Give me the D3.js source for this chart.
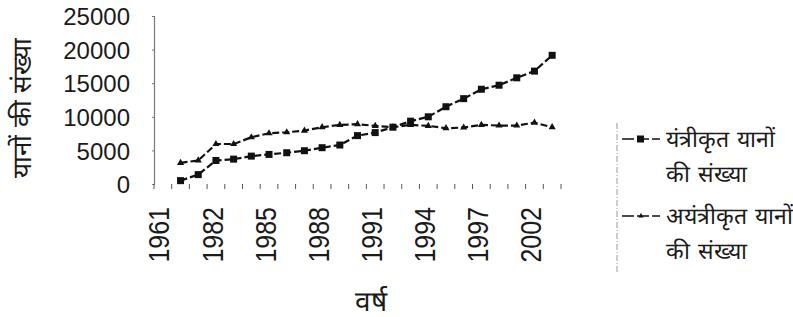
<!DOCTYPE html>
<html>
<head>
<meta charset="utf-8">
<script src="https://cdn.jsdelivr.net/npm/d3@7"></script>
<style>
  body { margin: 0; background: #fff; }
  svg { display: block; }
  text { font-family: "Liberation Sans", Arial, sans-serif; fill: #1a1a1a; }
</style>
</head>
<body>
<svg id="chart" width="793" height="317"></svg>
<script>
(function () {
    // categories along x (23 slots, every third one labelled)
    const years = ["1961", "1971", "1981", "1982", "1983", "1984", "1985", "1986", "1987",
        "1988", "1989", "1990", "1991", "1992", "1993", "1994", "1995", "1996", "1997",
        "1999", "2000", "2002", "2003"];
    const yearLabels = ["1961", "1982", "1985", "1988", "1991", "1994", "1997", "2002"];
    const yTicks = [0, 5000, 10000, 15000, 20000, 25000];

    // mechanised vehicles
    const mechanised = [null, 500, 1400, 3500, 3700, 4150, 4400, 4650, 4950, 5400, 5800,
        7200, 7650, 8450, 9350, 10000, 11500, 12700, 14100, 14700, 15800, 16800, 19150];
    // non-mechanised vehicles
    const nonMechanised = [null, 3150, 3500, 5950, 5950, 6950, 7550, 7700, 7950, 8450, 8800,
        8900, 8650, 8450, 8800, 8650, 8300, 8400, 8800, 8700, 8700, 9120, 8450];

    const seriesNames = [["यंत्रीकृत यानों", "की संख्या"], ["अयंत्रीकृत यानों", "की संख्या"]];

    const svg = d3.select("#chart");

    const x = d3.scaleBand().domain(years).range([154, 561]);
    const y = d3.scaleLinear().domain([0, 25000]).range([184, 16]);

    // y axis
    const yAxis = svg.append("g")
        .attr("transform", "translate(154,0)")
        .call(d3.axisLeft(y).tickValues(yTicks).tickFormat(d3.format("d")).tickSize(2).tickPadding(22));
    yAxis.select(".domain").attr("stroke", "#777").attr("stroke-width", 1.2);
    yAxis.selectAll(".tick line").attr("stroke", "#777");
    yAxis.selectAll(".tick text")
        .attr("font-size", 24)
        .attr("fill", "#1a1a1a")
        .style("font-family", "Liberation Sans, Arial, sans-serif")
        .attr("dy", "0.36em");

    // x tick marks on category boundaries
    svg.append("g").selectAll("line")
        .data(years.concat(["end"]))
        .enter()
        .append("line")
        .attr("x1", (d, i) => i < years.length ? x(d) : x.range()[1])
        .attr("x2", (d, i) => i < years.length ? x(d) : x.range()[1])
        .attr("y1", 184).attr("y2", 189)
        .attr("stroke", "#555").attr("stroke-width", 1);

    // x labels, rotated
    svg.append("g").selectAll("text")
        .data(yearLabels)
        .enter()
        .append("text")
        .attr("transform", d => `translate(${x(d) + x.bandwidth() / 2 - 4},207) rotate(-90) scale(1,1.18)`)
        .attr("text-anchor", "end")
        .attr("dy", "0.36em")
        .attr("font-size", 25)
        .text(d => d);

    // axis titles
    svg.append("text")
        .attr("transform", "translate(22,108) rotate(-90)")
        .attr("text-anchor", "middle")
        .attr("dy", "0.36em")
        .attr("font-size", 26)
        .text("यानों की संख्या");

    svg.append("text")
        .attr("x", 371).attr("y", 311)
        .attr("text-anchor", "middle")
        .attr("font-size", 28)
        .text("वर्ष");

    const line = d3.line()
        .defined(d => d != null)
        .x((d, i) => x(years[i]) + x.bandwidth() / 2)
        .y(d => y(d));

    const tri = d3.symbol().type(d3.symbolTriangle).size(22);

    // non-mechanised line + triangles
    svg.append("path")
        .datum(nonMechanised)
        .attr("fill", "none")
        .attr("stroke", "#111")
        .attr("stroke-width", 2.2)
        .attr("stroke-dasharray", "7,3")
        .attr("d", line);
    svg.append("g").selectAll("path")
        .data(nonMechanised.map((v, i) => [years[i], v]).filter(d => d[1] != null))
        .enter()
        .append("path")
        .attr("d", tri)
        .attr("transform", d => `translate(${x(d[0]) + x.bandwidth() / 2},${y(d[1])})`)
        .attr("fill", "#111");

    // mechanised line + squares
    svg.append("path")
        .datum(mechanised)
        .attr("fill", "none")
        .attr("stroke", "#111")
        .attr("stroke-width", 2.2)
        .attr("stroke-dasharray", "7,3")
        .attr("d", line);
    svg.append("g").selectAll("rect")
        .data(mechanised.map((v, i) => [years[i], v]).filter(d => d[1] != null))
        .enter()
        .append("rect")
        .attr("x", d => x(d[0]) + x.bandwidth() / 2 - 3.5)
        .attr("y", d => y(d[1]) - 3.5)
        .attr("width", 7).attr("height", 7)
        .attr("fill", "#111");

    // legend
    const legend = svg.append("g");
    legend.append("line")
        .attr("x1", 617).attr("x2", 617).attr("y1", 123).attr("y2", 273)
        .attr("stroke", "#999").attr("stroke-width", 1)
        .attr("stroke-dasharray", "6,2,1,2");

    const ly = [139, 216];
    ly.forEach((yy, k) => {
        legend.append("line")
            .attr("x1", 622).attr("x2", 660).attr("y1", yy).attr("y2", yy)
            .attr("stroke", "#111").attr("stroke-width", 1.3)
            .attr("stroke-dasharray", "12,3");
        if (k === 0) {
            legend.append("rect")
                .attr("x", 637).attr("y", yy - 3.5).attr("width", 7).attr("height", 7)
                .attr("fill", "#111");
        } else {
            legend.append("path")
                .attr("d", d3.symbol().type(d3.symbolTriangle).size(12))
                .attr("transform", `translate(641,${yy})`)
                .attr("fill", "#111");
        }
        seriesNames[k].forEach((t, j) => {
            legend.append("text")
                .attr("x", 666)
                .attr("y", yy + 8 + j * 35)
                .attr("font-size", 23)
                .attr("word-spacing", 2)
                .text(t);
        });
    });
})();
</script>
</body>
</html>
